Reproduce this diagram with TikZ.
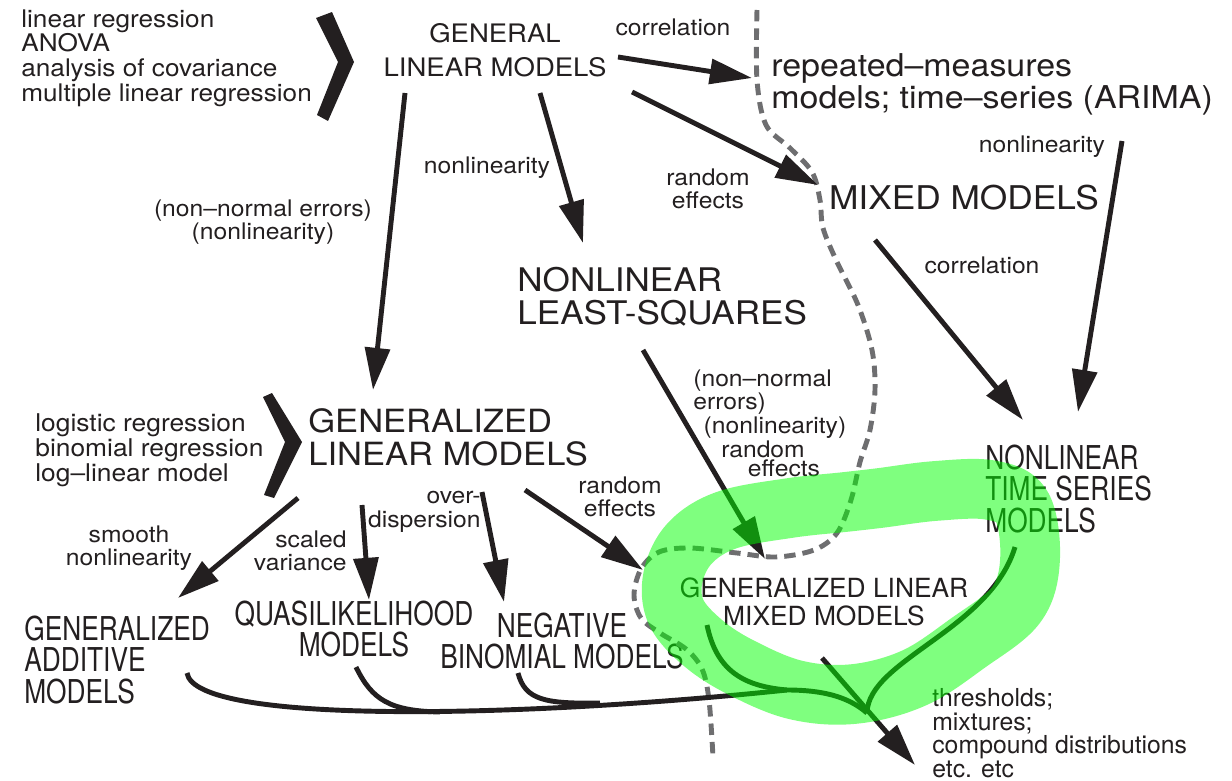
\documentclass[tikz,border=0pt]{standalone}
\usepackage{fontspec}
\setmainfont{TeX Gyre Heros}
\newfontfamily\sirsi[FakeStretch=1.08]{TeX Gyre Heros}
\newfontfamily\uzsi[FakeStretch=0.8]{TeX Gyre Heros}
\usetikzlibrary{arrows.meta}
\definecolor{inkoust}{RGB}{35,31,32}
\definecolor{sedta}{RGB}{110,110,112}
\definecolor{zvyraz}{RGB}{0,255,0}

\begin{document}
\begin{tikzpicture}[x=0.02cm, y=-0.02cm, inkoust,
  popis/.style={inner sep=0pt, align=center, font=\sirsi\fontsize{13}{13.3}\selectfont},
  velky/.style={inner sep=0pt, align=left, font=\sirsi\fontsize{18.2}{18.8}\selectfont},
  uzky/.style={inner sep=0pt, align=left, font=\uzsi\fontsize{18.7}{17.9}\selectfont},
  sipka/.style={line width=2.8pt, -{Triangle[length=24pt,width=14pt]}},
  vetev/.style={line width=2.8pt},
  hranice/.style={sedta, line width=2.8pt, dash pattern=on 6.5pt off 4pt}]

\useasboundingbox (0,0) rectangle (1232,781);

% obecne linearni modely
\node[anchor=west, inner sep=0pt, align=left, font=\sirsi\fontsize{13.8}{14}\selectfont] (lmlist) at (21,58)
  {linear regression\\ANOVA\\analysis of covariance\\multiple linear regression};
\fill (316,18) -- (332,12) -- (354,62) -- (328,121) -- (317,115) -- (338,62) -- cycle;
\node[inner sep=0pt, align=center, font=\sirsi\fontsize{14.5}{19.3}\selectfont] (gen) at (495,50) {GENERAL\\LINEAR MODELS};

% vpravo nahore
\node[anchor=west, inner sep=0pt, align=left, font=\sirsi\fontsize{17.9}{18.2}\selectfont] (rep) at (771,84)
  {repeated–measures\\models; time–series (ARIMA)};
\node[inner sep=0pt, font=\sirsi\fontsize{18.6}{19}\selectfont] (mixed) at (964,198) {MIXED MODELS};
\node[velky, anchor=west, font=\sirsi\fontsize{18.5}{18.8}\selectfont] (nls) at (517,297) {NONLINEAR\\LEAST-SQUARES};

% zobecnene linearni modely
\node[anchor=west, inner sep=0pt, align=left, font=\sirsi\fontsize{13.9}{13}\selectfont] (glmlist) at (35,450)
  {logistic regression\\binomial regression\\log–linear model};
\fill (263,397) -- (272,393) -- (302,442) -- (274,498) -- (264,495) -- (285,442) -- cycle;
\node[velky, anchor=west] (glm) at (308,437) {GENERALIZED\\LINEAR MODELS};

% spodni rada
\node[uzky, anchor=west] (gam) at (24,660) {GENERALIZED\\ADDITIVE\\MODELS};
\node[uzky, align=center] (quasi) at (354,629) {QUASILIKELIHOOD\\MODELS};
\node[uzky, align=center] (negbin) at (562,641) {NEGATIVE\\BINOMIAL MODELS};
\node[inner sep=0pt, align=center, font=\fontsize{15}{16}\selectfont] (glmm) at (824,602) {GENERALIZED LINEAR\\MIXED MODELS};
\node[uzky, anchor=west] (nts) at (985,489) {NONLINEAR\\TIME SERIES\\MODELS};
\node[anchor=west, inner sep=0pt, align=left, font=\fontsize{14.1}{13.4}\selectfont] (thr) at (932,733)
  {thresholds;\\mixtures;\\compound distributions\\etc. etc};

% popisky u sipek
\node[popis] (corrA) at (673,27) {correlation};
\node[popis] (nonlinA) at (487,168) {nonlinearity};
\node[popis] (nne) at (263,222) {(non–normal errors)\\(nonlinearity)};
\node[popis] (reA) at (708,189) {random\\effects};
\node[popis] (nonlinB) at (1042,147) {nonlinearity};
\node[popis] (corrB) at (982,265) {correlation};
\node[popis, anchor=west, align=left] (nneB) at (693,392) {(non–normal\\errors)};
\node[popis] (nonlinC) at (775,428) {(nonlinearity)};
\node[popis] (reC) at (763,449) {random};
\node[popis] (effC) at (784,468) {effects};
\node[popis] (reD) at (620,497) {random\\effects};
\node[popis] (smooth) at (129,548) {smooth\\nonlinearity};
\node[popis, anchor=east, align=right] (scaled) at (347,551) {scaled\\variance};
\node[popis, anchor=east, align=right] (overd) at (481,512) {over-\\dispersion};

% hranice
\draw[hranice] plot[smooth, tension=0.55] coordinates {(757,10) (757,80) (766,125) (790,148) (812,172) (820,200)
  (823,228) (837,262) (858,305) (872,350) (875,390) (870,430) (860,462) (851,500) (837,533) (814,550) (776,557)
  (737,553) (690,548) (659,552) (641,569) (634,595) (641,618) (660,633) (686,649) (702,669) (709,700) (713,757)};

% sipky nahore
\draw[sipka] ([shift={(123,7)}]gen.center) -- ([shift={(-19,-6)}]rep.west);
\draw[sipka] ([shift={(137,42)}]gen.center) -- ([shift={(-146,-13)}]mixed.center);
\draw[sipka] ([shift={(45,43)}]gen.center) -- ([shift={(66,-54)}]nls.west);
\draw[sipka] ([shift={(-90,43)}]gen.center) -- ([shift={(65,-47)}]glm.west);
\draw[sipka] ([shift={(351,57)}]rep.west) -- ([shift={(93,-77)}]nts.west);
\draw[sipka] ([shift={(-89,42)}]mixed.center) -- ([shift={(38,-69)}]nts.west);
\draw[sipka] ([shift={(126,53)}]nls.west) -- ([shift={(-59,-43)}]glmm.center);

% sipky dole
\draw[sipka] ([shift={(-10,61)}]glm.west) -- ([shift={(154,-62)}]gam.west);
\draw[sipka] ([shift={(54,68)}]glm.west) -- ([shift={(15,-29)}]quasi.center);
\draw[sipka] ([shift={(174,55)}]glm.west) -- ([shift={(-58,-39)}]negbin.center);
\draw[sipka] ([shift={(217,53)}]glm.west) -- ([shift={(-181,-32)}]glmm.center);

% sbihajici se vetve
\coordinate (jq) at (440,712);
\coordinate (jn) at (600,703);
\coordinate (jm) at (787,690);
\coordinate (spoj) at (867,713);
\draw[vetev] ([shift={(163,13)}]gam.west) .. controls (195,725) and (520,718) .. (jm)
  .. controls (830,690) and (852,700) .. (spoj);
\draw[vetev] ([shift={(2,38)}]quasi.center) .. controls (372,700) and (390,711) .. (jq);
\draw[vetev] ([shift={(-44,32)}]negbin.center) .. controls (525,700) and (545,704) .. (jn);
\draw[vetev] ([shift={(-117,23)}]glmm.center) .. controls (716,668) and (740,686) .. (jm);
\draw[vetev] ([shift={(30,58)}]nts.west) .. controls (990,630) and (868,660) .. (spoj);
\draw[sipka] ([shift={(-2,56)}]glmm.center) -- ([shift={(-17,32)}]thr.west);

% zvyrazneni
\begin{scope}[transparency group, opacity=0.5]
\draw[zvyraz, line width=34pt, line cap=round, line join=round] plot[smooth cycle, tension=0.6] coordinates {
  (880,498) (935,491) (990,490) (1022,507) (1030,560) (1016,605) (968,643) (914,678) (854,694) (796,690)
  (742,668) (703,643) (676,612) (673,577) (690,543) (727,520) (790,508) (845,502)};
\end{scope}

\end{tikzpicture}
\end{document}
